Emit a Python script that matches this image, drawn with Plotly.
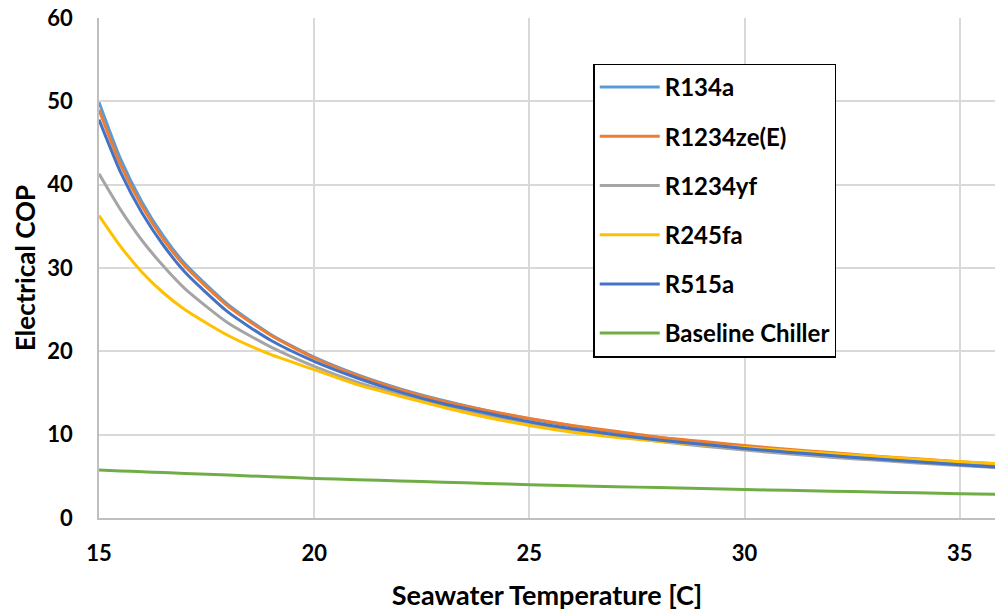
import plotly.graph_objects as go

temps = [15, 15.5, 16, 16.5, 17, 18, 19, 20, 21, 22, 23, 24, 25, 26, 27, 28, 29, 30, 31, 32, 33, 34, 35, 36]

r134a = [49.9, 43.1, 37.9, 33.8, 30.5, 25.6, 22.0, 19.3, 17.2, 15.5, 14.1, 12.9, 11.9, 11.05, 10.3, 9.65, 9.1, 8.55, 8.1, 7.7, 7.3, 6.95, 6.6, 6.3]
r1234ze = [49.0, 42.4, 37.4, 33.4, 30.2, 25.4, 21.9, 19.2, 17.1, 15.4, 14.0, 12.9, 11.95, 11.1, 10.4, 9.7, 9.2, 8.7, 8.25, 7.85, 7.45, 7.1, 6.75, 6.45]
r1234yf = [41.3, 37.0, 33.3, 30.2, 27.5, 23.4, 20.5, 18.2, 16.3, 14.8, 13.5, 12.3, 11.25, 10.45, 9.8, 9.2, 8.65, 8.15, 7.7, 7.3, 6.95, 6.6, 6.3, 6.0]
r245fa = [36.3, 32.6, 29.5, 27.0, 25.0, 21.9, 19.6, 17.8, 16.0, 14.6, 13.3, 12.1, 11.1, 10.3, 9.7, 9.2, 8.8, 8.45, 8.1, 7.75, 7.4, 7.05, 6.75, 6.5]
r515a = [47.8, 41.5, 36.6, 32.7, 29.5, 24.7, 21.3, 18.8, 16.8, 15.1, 13.7, 12.6, 11.55, 10.7, 10.0, 9.35, 8.85, 8.35, 7.9, 7.5, 7.1, 6.75, 6.4, 6.05]
baseline = [5.75, 5.65, 5.55, 5.45, 5.35, 5.15, 4.95, 4.75, 4.6, 4.45, 4.3, 4.15, 4.0, 3.88, 3.76, 3.65, 3.53, 3.42, 3.32, 3.22, 3.12, 3.02, 2.92, 2.82]

series_names = ["R134a", "R1234ze(E)", "R1234yf", "R245fa", "R515a", "Baseline Chiller"]
series_values = [r134a, r1234ze, r1234yf, r245fa, r515a, baseline]
colors = ["#5B9BD5", "#ED7D31", "#A5A5A5", "#FFC000", "#4472C4", "#70AD47"]

x_ticks = [15, 20, 25, 30, 35]
y_ticks = [0, 10, 20, 30, 40, 50, 60]

FONT = "Lato, Calibri, sans-serif"

fig = go.Figure()
for i, (name, vals, col) in enumerate(zip(series_names, series_values, colors)):
    fig.add_trace(go.Scatter(
        x=temps, y=vals, mode="lines", name=name,
        line=dict(color=col, width=3, shape="spline", smoothing=0.6),
        legendgroup=f"g{i}",
    ))

fig.update_layout(
    width=995, height=611,
    margin=dict(l=98.5, r=0, t=17.5, b=92.5),
    paper_bgcolor="white", plot_bgcolor="white",
    showlegend=True,
    legend=dict(
        x=0.5516, y=0.909, xanchor="left", yanchor="top",
        bordercolor="black", borderwidth=1.5, bgcolor="white",
        font=dict(family=FONT, size=24, color="black", weight="bold"),
        tracegroupgap=15, itemwidth=60,
    ),
    xaxis=dict(
        range=[15, 35.82], tickvals=x_ticks, ticktext=[str(v) for v in x_ticks],
        showgrid=True, gridcolor="#D9D9D9", gridwidth=1.5,
        showline=True, linecolor="#BFBFBF", linewidth=1.5,
        zeroline=False,
        ticks="outside", ticklen=15, tickcolor="rgba(0,0,0,0)",
        tickfont=dict(family=FONT, size=22, color="black", weight="bold"),
        title=dict(text="Seawater Temperature [C]", standoff=26,
                   font=dict(family=FONT, size=27, color="black", weight="bold")),
    ),
    yaxis=dict(
        range=[0, 60], tickvals=y_ticks,
        showgrid=True, gridcolor="#D9D9D9", gridwidth=1.5,
        showline=True, linecolor="#BFBFBF", linewidth=1.5,
        zeroline=False,
        ticks="outside", ticklen=20, tickcolor="rgba(0,0,0,0)",
        tickfont=dict(family=FONT, size=22, color="black", weight="bold"),
        title=dict(text="Electrical COP", standoff=4,
                   font=dict(family=FONT, size=26, color="black", weight="bold")),
    ),
)

fig.write_html("out.html", config={"displayModeBar": False},
               post_script="document.body.style.margin='0';")
